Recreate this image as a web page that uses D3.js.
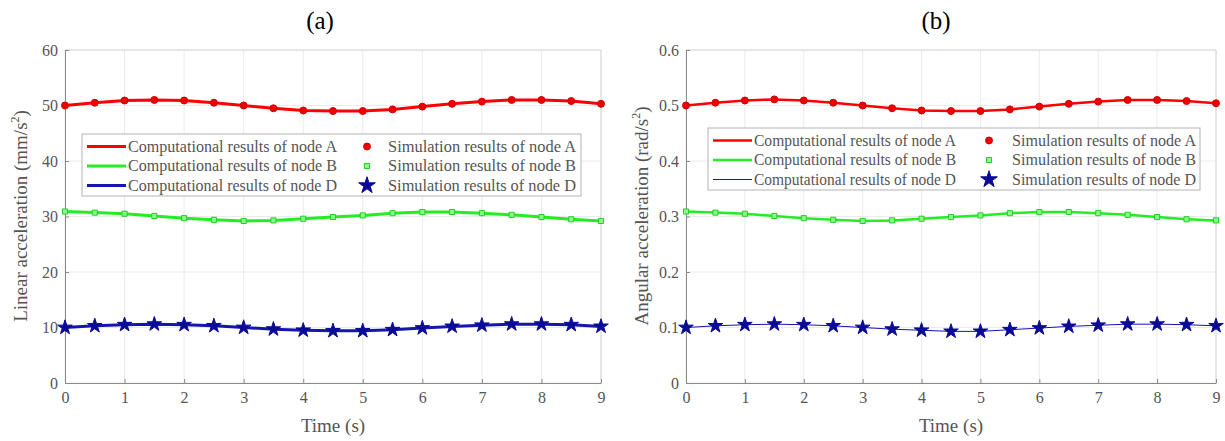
<!DOCTYPE html>
<html>
<head>
<meta charset="utf-8">
<script src="https://cdn.jsdelivr.net/npm/d3@7"></script>
<style>
  body { margin: 0; background: #fff; }
  svg text { font-family: "Liberation Serif", "Times New Roman", serif; }
</style>
</head>
<body>
<div id="chart"></div>
<script>
const times = [0, 0.5, 1, 1.5, 2, 2.5, 3, 3.5, 4, 4.5, 5, 5.5, 6, 6.5, 7, 7.5, 8, 8.5, 9];

// (a) linear acceleration, mm/s^2
const linearA = [50.0, 50.5, 50.9, 51.0, 50.9, 50.5, 50.0, 49.5, 49.1, 49.0, 49.0, 49.3, 49.8, 50.3, 50.7, 51.0, 51.0, 50.8, 50.3];
const linearB = [30.9, 30.7, 30.5, 30.1, 29.7, 29.4, 29.2, 29.3, 29.6, 29.9, 30.2, 30.6, 30.8, 30.8, 30.6, 30.3, 29.9, 29.5, 29.2];
const linearD = [10.0, 10.3, 10.5, 10.6, 10.5, 10.3, 10.0, 9.7, 9.5, 9.4, 9.4, 9.6, 9.9, 10.2, 10.4, 10.6, 10.6, 10.5, 10.2];

// (b) angular acceleration, rad/s^2
const angularA = [0.500, 0.505, 0.509, 0.511, 0.509, 0.505, 0.500, 0.495, 0.491, 0.490, 0.490, 0.493, 0.498, 0.503, 0.507, 0.510, 0.510, 0.508, 0.504];
const angularB = [0.309, 0.307, 0.305, 0.301, 0.297, 0.294, 0.292, 0.293, 0.296, 0.299, 0.302, 0.306, 0.308, 0.308, 0.306, 0.303, 0.299, 0.295, 0.293];
const angularD = [0.100, 0.103, 0.105, 0.106, 0.105, 0.103, 0.100, 0.097, 0.095, 0.093, 0.093, 0.096, 0.099, 0.102, 0.104, 0.106, 0.106, 0.105, 0.103];

const xTicks = [0, 1, 2, 3, 4, 5, 6, 7, 8, 9];
const linearTicks = [0, 10, 20, 30, 40, 50, 60];
const angularTicks = [0, 0.1, 0.2, 0.3, 0.4, 0.5, 0.6];

const compLabels = ["Computational results of node A", "Computational results of node B", "Computational results of node D"];
const simLabels = ["Simulation results of node A", "Simulation results of node B", "Simulation results of node D"];

const W = 1225, H = 441;
const svg = d3.select("#chart").append("svg")
  .attr("width", W)
  .attr("height", H);

const styles = [
  { line: "#ff0000", symbol: d3.symbolCircle, size: 38, fill: "#ee0000", stroke: "#cc0000" },
  { line: "#22ee22", symbol: d3.symbolSquare, size: 26, fill: "#88ff88", stroke: "#22cc22" },
  { line: "#1515b0", symbol: d3.symbolStar, size: 66, fill: "#0a0a96", stroke: "#0a0a96" }
];

function drawPanel(p) {
  const x = d3.scaleLinear().domain([0, 9]).range([p.x0, p.x1]);
  const y = d3.scaleLinear().domain([0, p.ymax]).range([383, 50]);
  const g = svg.append("g");

  // grid
  g.append("g").selectAll("line").data(xTicks).join("line")
    .attr("x1", d => x(d)).attr("x2", d => x(d))
    .attr("y1", y(0)).attr("y2", y(p.ymax))
    .attr("stroke", "#ebebeb").attr("stroke-width", 1);
  g.append("g").selectAll("line").data(p.yTicks).join("line")
    .attr("x1", x(0)).attr("x2", x(9))
    .attr("y1", d => y(d)).attr("y2", d => y(d))
    .attr("stroke", "#ebebeb").attr("stroke-width", 1);

  // box top/right
  g.append("path")
    .attr("d", `M${x(0)},${y(p.ymax)}H${x(9)}V${y(0)}`)
    .attr("fill", "none").attr("stroke", "#d6d6d6");

  const xAxis = g.append("g")
    .attr("transform", `translate(0,${y(0)})`)
    .call(d3.axisBottom(x).tickValues(xTicks).tickFormat(d3.format("d")).tickSizeInner(-4).tickSizeOuter(0).tickPadding(9));
  const yAxis = g.append("g")
    .attr("transform", `translate(${x(0)},0)`)
    .call(d3.axisLeft(y).tickValues(p.yTicks).tickFormat(p.fmt).tickSizeInner(-4).tickSizeOuter(0).tickPadding(7));
  [xAxis, yAxis].forEach(a => {
    a.select(".domain").attr("stroke", "#8a8a8a");
    a.selectAll(".tick line").attr("stroke", "#8a8a8a");
    a.selectAll(".tick text")
      .attr("fill", "#555")
      .style("font-size", "16px")
      .style("font-family", "Liberation Serif, serif");
  });

  // series lines and markers
  p.series.forEach((vals, i) => {
    const st = styles[i];
    const pts = times.map((t, k) => ({ t, v: vals[k] }));
    g.append("path")
      .datum(pts)
      .attr("fill", "none")
      .attr("stroke", st.line)
      .attr("stroke-width", p.widths[i])
      .attr("d", d3.line().x(d => x(d.t)).y(d => y(d.v)));
    g.append("g").selectAll("path").data(pts).join("path")
      .attr("transform", d => `translate(${x(d.t)},${y(d.v)})`)
      .attr("d", d3.symbol().type(st.symbol).size(st.size))
      .attr("fill", st.fill)
      .attr("stroke", st.stroke)
      .attr("stroke-width", 1);
  });

  // title
  svg.append("text")
    .attr("x", p.titleX).attr("y", 29)
    .attr("text-anchor", "middle")
    .style("font-size", "25px")
    .text(p.title);

  // axis labels
  svg.append("text")
    .attr("x", (p.x0 + p.x1) / 2).attr("y", 432)
    .attr("text-anchor", "middle")
    .attr("fill", "#555")
    .style("font-size", "19px")
    .text("Time (s)");

  const yl = svg.append("text")
    .attr("transform", `translate(${p.ylabX},216) rotate(-90)`)
    .attr("text-anchor", "middle")
    .attr("fill", "#555")
    .style("font-size", "19px");
  yl.append("tspan").text(p.ylab + " (" + p.unit + "/s");
  yl.append("tspan").attr("dy", -8).style("font-size", "12px").text("2");
  yl.append("tspan").attr("dy", 8).text(")");

  // legend
  const L = p.legend;
  const lg = svg.append("g");
  lg.append("rect")
    .attr("x", L.x).attr("y", L.y)
    .attr("width", L.w).attr("height", 62)
    .attr("fill", "#fff").attr("stroke", "#b4b4b4");
  styles.forEach((st, i) => {
    const ry = L.y + 12.5 + i * 19.5;
    lg.append("line")
      .attr("x1", L.x + 5).attr("x2", L.x + 44)
      .attr("y1", ry).attr("y2", ry)
      .attr("stroke", st.line).attr("stroke-width", p.widths[i]);
    lg.append("text")
      .attr("x", L.x + 46).attr("y", ry + 5)
      .attr("fill", "#555")
      .attr("textLength", L.compW).attr("lengthAdjust", "spacingAndGlyphs")
      .style("font-size", "16px")
      .text(compLabels[i]);
    lg.append("path")
      .attr("transform", `translate(${L.x + L.markX},${ry})`)
      .attr("d", d3.symbol().type(st.symbol).size(st.size * (i === 2 ? 1.3 : 1)))
      .attr("fill", st.fill).attr("stroke", st.stroke);
    lg.append("text")
      .attr("x", L.x + L.simX).attr("y", ry + 5)
      .attr("fill", "#555")
      .attr("textLength", L.simW).attr("lengthAdjust", "spacingAndGlyphs")
      .style("font-size", "16px")
      .text(simLabels[i]);
  });
}

drawPanel({
  x0: 65, x1: 601, ymax: 60, yTicks: linearTicks, fmt: d3.format("d"),
  series: [linearA, linearB, linearD], widths: [3, 3, 3],
  title: "(a)", titleX: 320, ylab: "Linear acceleration", unit: "mm", ylabX: 27,
  legend: { x: 82, y: 134, w: 499, markX: 285, simX: 306, compW: 209, simW: 188 }
});

drawPanel({
  x0: 686, x1: 1216, ymax: 0.6, yTicks: angularTicks, fmt: d => d === 0 ? "0" : d3.format(".1f")(d),
  series: [angularA, angularB, angularD], widths: [2.5, 2.5, 1],
  title: "(b)", titleX: 936, ylab: "Angular acceleration", unit: "rad", ylabX: 648,
  legend: { x: 708, y: 128, w: 492, markX: 281, simX: 304, compW: 202, simW: 184 }
});
</script>
</body>
</html>
